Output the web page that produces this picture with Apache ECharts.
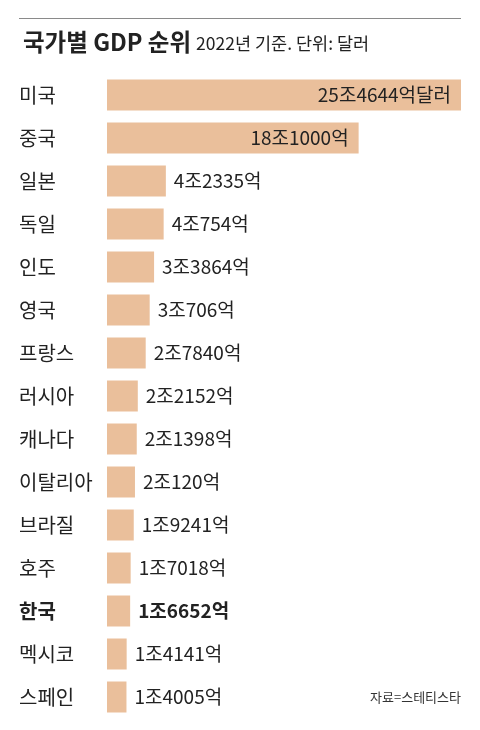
<!DOCTYPE html>
<html><head><meta charset="utf-8">
<script src="https://cdn.jsdelivr.net/npm/echarts@6/dist/echarts.min.js"></script>
<style>html,body{margin:0;padding:0;background:#fff}#c{width:480px;height:730px}</style>
</head><body><div id="c"></div>
<script>
const countries = ['미국','중국','일본','독일','인도','영국','프랑스','러시아','캐나다','이탈리아','브라질','호주','한국','멕시코','스페인'];
const gdpTrillion = [25.4644,18.1,4.2335,4.0754,3.3864,3.0706,2.784,2.2152,2.1398,2.012,1.9241,1.7018,1.6652,1.4141,1.4005];
const valueLabels = ['25조4644억달러','18조1000억','4조2335억','4조754억','3조3864억','3조706억','2조7840억','2조2152억','2조1398억','2조120억','1조9241억','1조7018억','1조6652억','1조4141억','1조4005억'];
const highlight = '한국';
const insideLabels = ['미국','중국'];

const FONT = "'Noto Sans CJK KR', 'Noto Sans', sans-serif";
const chart = echarts.init(document.getElementById('c'));
const data = gdpTrillion.map((v,i)=>{
  const inside = insideLabels.includes(countries[i]);
  const bold = countries[i]===highlight;
  return {
    value: v,
    label: {
      show: true,
      position: inside ? 'insideRight' : 'right',
      distance: inside ? 10 : 8,
      formatter: valueLabels[i],
      fontFamily: FONT,
      fontSize: 19,
      fontWeight: bold ? 'bold' : 'normal',
      color: '#222',
      letterSpacing: -1
    }
  };
});
chart.setOption({
  animation: false,
  title: {
    left: 18, top: 25,
    text: '{a|국가별 GDP 순위} {b|2022년 기준. 단위: 달러}',
    textStyle: {
      fontWeight: 'normal',
      rich: {
        a: {fontFamily: FONT, fontSize: 23.5, fontWeight: 'bold', color: '#222'},
        b: {fontFamily: FONT, fontSize: 17.5, fontWeight: 'normal', color: '#222', padding:[3,0,0,0]}
      }
    }
  },
  graphic: [
    {type:'line', shape:{x1:19,y1:18.5,x2:461,y2:18.5}, style:{stroke:'#8a8a8a', lineWidth:1}},
    {type:'text', right:19, top:691, style:{text:'자료=스테티스타', font:"13px 'Noto Sans CJK KR'", fill:'#333'}}
  ],
  grid: {left:107, right:19, top:73.5, bottom:11.5, containLabel:false},
  xAxis: {type:'value', min:0, max:'dataMax', show:false},
  yAxis: {
    type:'category', inverse:true, data: countries,
    axisLine:{show:false}, axisTick:{show:false},
    axisLabel:{
      align:'left', margin:88, fontFamily: FONT, fontSize:20, color:'#222',
      formatter: (v)=> v===highlight ? '{b|'+v+'}' : v,
      rich:{b:{fontFamily:FONT, fontSize:20, fontWeight:'bold', color:'#222'}}
    }
  },
  series: [{
    type:'bar', data: data, barWidth:31,
    itemStyle:{color:'#EABF9B'}
  }]
});
</script></body></html>
